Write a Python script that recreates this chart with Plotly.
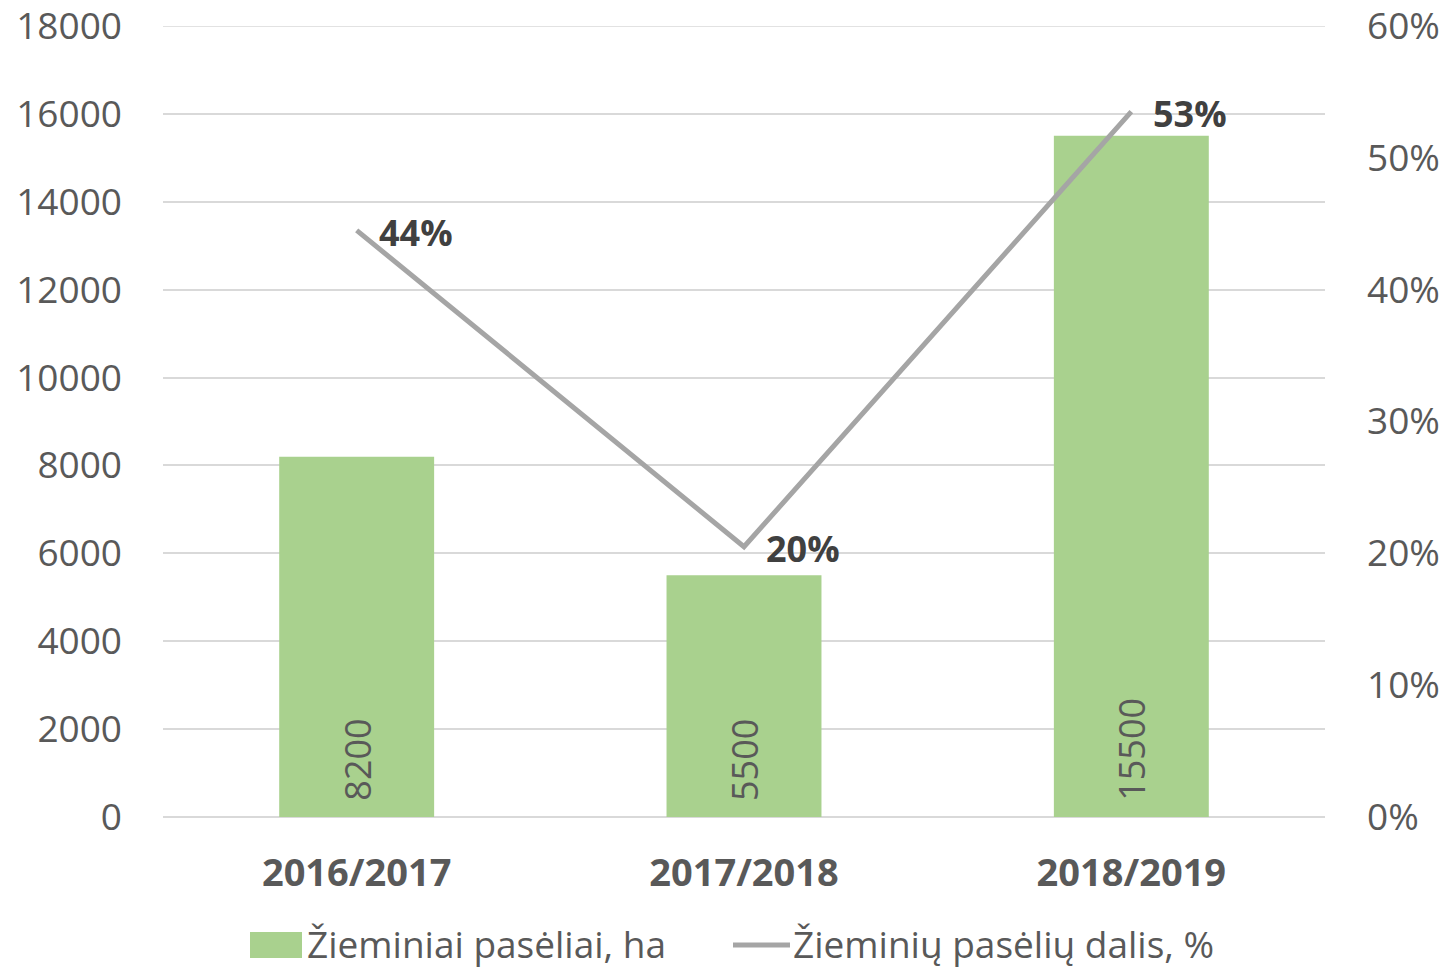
import plotly.graph_objects as go

categories = ["2016/2017", "2017/2018", "2018/2019"]
area_ha = [8200, 5500, 15500]
share = [0.445, 0.205, 0.535]
share_labels = ["44%", "20%", "53%"]
left_ticks = list(range(0, 18001, 2000))
bar_name = "Žieminiai pasėliai, ha"
line_name = "Žieminių pasėlių dalis, %"

FONT = "Open Sans"
GREY = "#595959"
GREEN = "#A9D18E"
LINE = "#A5A5A5"
GRID = "#D9D9D9"

# plot area in pixels (for paper-coordinate legend placement)
L, R, T, B = 163, 1325, 26, 817
W, H = R - L, B - T
def px(x):
    return (x - L) / W
def py(y):
    return (B - y) / H

fig = go.Figure()
fig.add_trace(go.Bar(
    x=categories, y=area_ha, name=bar_name,
    marker=dict(color=GREEN, line=dict(width=0)),
    width=0.4, showlegend=False,
))
fig.add_trace(go.Scatter(
    x=categories, y=share, name=line_name, yaxis="y2",
    mode="lines", line=dict(color=LINE, width=5), showlegend=False,
    cliponaxis=False,
))

annotations = []
# bar value labels (rotated, at base inside bar)
for c, v in zip(categories, area_ha):
    annotations.append(dict(
        x=c, y=0, xref="x", yref="y", text=str(v), showarrow=False,
        textangle=-90, xanchor="center", yanchor="bottom", yshift=14,
        font=dict(family=FONT, size=36, color=GREY),
    ))
# line labels
for c, v, s in zip(categories, share, share_labels):
    annotations.append(dict(
        x=c, y=v, xref="x", yref="y2", text="<b>%s</b>" % s, showarrow=False,
        xanchor="left", yanchor="middle", xshift=20, yshift=-2,
        font=dict(family=FONT, size=36, color="#404040"),
    ))
# manual legend
annotations.append(dict(x=px(305), y=py(943), xref="paper", yref="paper",
                        text=bar_name, showarrow=False, xanchor="left", yanchor="middle",
                        font=dict(family=FONT, size=37, color=GREY)))
annotations.append(dict(x=px(791), y=py(943), xref="paper", yref="paper",
                        text=line_name, showarrow=False, xanchor="left", yanchor="middle",
                        font=dict(family=FONT, size=37, color=GREY)))

shapes = [
    dict(type="rect", xref="paper", yref="paper", x0=px(250), x1=px(302),
         y0=py(958), y1=py(932), fillcolor=GREEN, line=dict(width=0)),
    dict(type="line", xref="paper", yref="paper", x0=px(733), x1=px(790),
         y0=py(945), y1=py(945), line=dict(color=LINE, width=5)),
    # top gridline at the edge of the range
    dict(type="line", xref="paper", yref="y", x0=0, x1=1,
         y0=left_ticks[-1], y1=left_ticks[-1], layer="below",
         line=dict(color=GRID, width=1.5)),
]

fig.update_layout(
    width=1448, height=969,
    margin=dict(l=L, r=1448 - R, t=T, b=969 - B, autoexpand=False),
    plot_bgcolor="white", paper_bgcolor="white",
    font=dict(family=FONT, color=GREY, size=32),
    showlegend=False,
    annotations=annotations,
    shapes=shapes,
    xaxis=dict(showgrid=False, showline=False, zeroline=False, ticks="",
               automargin=False, ticklabeloverflow="allow",
               tickfont=dict(family=FONT, size=38, color=GREY, weight="bold"),
               ticklabelstandoff=30),
    yaxis=dict(range=[0, left_ticks[-1]], tickvals=left_ticks,
               showgrid=True, gridcolor=GRID,
               gridwidth=1.5, zeroline=True, zerolinecolor=GRID, zerolinewidth=1.5,
               showline=False, ticks="", automargin=False, ticklabeloverflow="allow",
               tickfont=dict(family=FONT, size=37, color=GREY),
               ticklabelstandoff=40, tickformat="d"),
    yaxis2=dict(range=[0, 0.6], dtick=0.1, overlaying="y", side="right",
                showgrid=False, zeroline=False, showline=False, ticks="",
                automargin=False, ticklabeloverflow="allow",
                tickformat=".0%", tickfont=dict(family=FONT, size=37, color=GREY),
                ticklabelstandoff=41),
)

fig.write_html("out.html", post_script="document.body.style.margin='0';",
               config={"displayModeBar": False})
